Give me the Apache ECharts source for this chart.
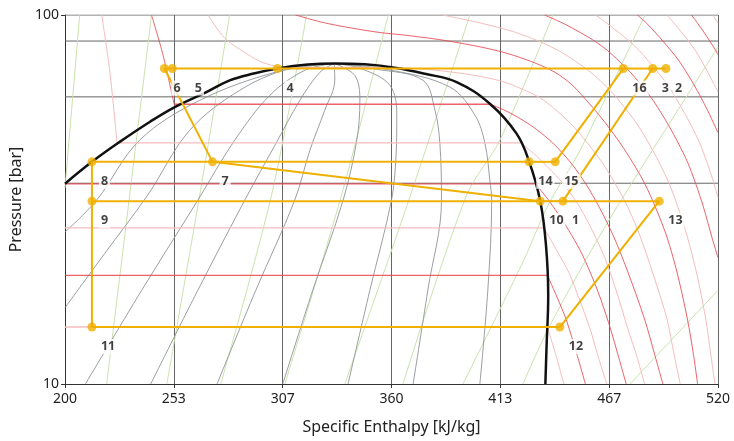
<!DOCTYPE html>
<html><head><meta charset="utf-8">
<script src="https://cdn.jsdelivr.net/npm/echarts@6/dist/echarts.min.js"></script>
<style>html,body{margin:0;padding:0;background:#fff}#c{width:734px;height:441px}</style>
</head><body><div id="c"></div>
<script>
// ---- axis / grid values ----
const hMin = 200, hMax = 520;
const pMin = 10, pMax = 100;
const pressureGrid = [35, 60, 85, 100];

// ---- cycle state points ----
const pointNames = ['1','2','3','4','5','6','7','8','9','10','11','12','13','14','15','16'];
const pointH = [444.0,494.5,488.0,304.1,252.6,248.7,272.3,213.2,213.2,432.9,213.2,442.5,491.2,427.5,440.2,473.6];
const pointP = [31.3,71.6,71.6,71.6,71.6,71.6,40.0,40.0,31.3,31.3,14.27,14.27,31.3,40.0,40.0,71.6];
const cycleSegments = [['6','5'],['5','4'],['4','16'],['16','3'],['3','2'],['6','7'],['7','10'],['8','7'],['7','14'],['14','15'],['15','16'],['8','9'],['9','11'],['9','10'],['10','1'],['1','13'],['1','3'],['11','12'],['12','13']];

// ---- saturation dome [h, p] ----
const dome = [[200,34.9],[213.2,40.0],[226.8,45.3],[241.5,51.3],[253.8,56.3],[269.3,61.8],[280.7,66.5],[292.5,69.4],[304.1,71.6],[319,73.4],[332,73.9],[346.9,73.5],[361.6,72.0],[376.4,69.3],[391.9,65.8],[408.2,57.5],[421.3,47.7],[427.5,40.0],[432.9,31.3],[435.7,23.8],[436.8,17.4],[436.0,12.7],[435.4,10]];

// ---- vapour quality lines ----
const quality1 = [[332,73.9],[303.6,70.1],[266.0,58.7],[236.6,45.8],[215.5,31.5],[200,25.8]];
const quality2 = [[332,73.9],[310.2,71.7],[285.6,62.5],[261.1,48.7],[240.5,32.5],[219.5,22.6],[200,16.1]];
const quality3 = [[332,73.9],[317.5,70.8],[300.4,60.6],[283.2,45.8],[265.1,31.5],[237.6,17.95],[210,10]];
const quality4 = [[332,73.9],[324.9,69.95],[315.1,58.7],[302.9,44.4],[288.1,31.5],[265.1,17.95],[242,10]];
const quality5 = [[332,73.9],[332.2,66.55],[327.3,55.2],[320,43],[312.6,31.5],[293.5,17.95],[274.5,10]];
const quality6 = [[332,73.9],[342,68.6],[344.5,58.7],[343,45.8],[336.3,31.5],[321.4,17.95],[306.7,10]];
const quality7 = [[332,73.9],[345,71.6],[359.2,64.5],[362.6,53.5],[362.1,40.4],[360,31.5],[349.4,17.95],[338.7,10]];
const quality8 = [[332,73.9],[352,71.4],[375.4,66.55],[381.3,55.2],[383.7,44.9],[384.5,31.5],[377.8,17.95],[370.6,10]];
const quality9 = [[332,73.9],[358,71.2],[388.6,63.8],[400.9,53.5],[405.8,44.9],[408.2,35.6],[409.1,31.5],[407.2,17.95],[403.3,10]];

// ---- isentropes ----
const entropy1 = [[200,34],[207.2,100]];
const entropy2 = [[220.4,10],[231.7,32.5],[242.4,100]];
const entropy3 = [[249.9,10],[266.0,32.5],[280.7,100]];
const entropy4 = [[276.3,10],[301.2,32.5],[318.4,100]];
const entropy5 = [[307.7,10],[335.5,32.5],[358.4,100]];
const entropy6 = [[337.1,10],[368.5,31.5],[398.4,100]];
const entropy7 = [[365.6,10],[396.8,32.5],[413.1,45.8],[439.1,100]];
const entropy8 = [[395.0,10],[424.4,21.4],[436.7,30.5],[452.4,43.0],[484.2,100]];
const entropy9 = [[424.4,10],[437.6,14.4],[467.1,28.1],[520,81.8]];
const entropy10 = [[476.9,10],[520,17.95]];

// ---- isotherms (every 10 °C) ----
const isoM30 = [[200,14.27],[436.4,14.27],[440.5,12],[444.5,10]];
const isoM20 = [[200,19.7],[436.4,19.7],[441.5,17],[445.5,15],[450,12.5],[455,10]];
const isoM10 = [[200,26.5],[434.7,26.5],[441,23],[447,20],[452,17],[457.5,14],[461,12],[465.5,10]];
const iso0 = [[200,34.85],[430.6,34.85],[436,32],[441.5,29],[447,26],[452.5,23],[457.5,20],[462.5,17],[467.5,14],[471,12],[475,10]];
const iso10 = [[218,100],[222,70],[225.5,45],[423.4,45],[430,42],[436,39],[442,36],[447.5,33],[452.5,30],[458.5,26],[464.5,22],[470,18],[476,14],[480,12],[484,10]];
const iso20 = [[242.4,100],[248,78],[253.5,57.3],[408.5,57.3],[416,55],[424,52],[431,49],[439,45],[447.5,40],[455,35],[462,30],[469,25],[476,20],[484,15],[489,12],[493,10]];
const iso30 = [[270,100],[278.3,86.5],[288,79.2],[295.5,74.9],[303,72.6],[306,72.1],[360.7,72.1],[380,71],[398,69],[410,67],[418,65],[432,60],[441,55],[449,50],[456,45],[463,40],[469.5,35],[476,30],[482,25],[488,20],[495,15],[498.5,12],[501.5,10]];
const iso40 = [[313,100],[328,95],[352,90],[368,88],[388,85],[412,80],[428,75],[440,70],[448,65],[454,60],[460,55],[466,50],[472,45],[478,40],[484,35],[489.5,30],[495,25],[500,20],[505,15],[508,12],[510,10]];
const iso50 = [[385,100],[404,95],[420,90],[432,85],[442,80],[450,75],[457.5,70],[464,65],[470,60],[475.5,55],[481,50],[486,45],[491,40],[496,35],[500.5,30],[505,25],[509.5,20],[514,15],[516.5,12],[518.5,10]];
const iso60 = [[435,100],[444,95],[452,90],[459.5,85],[466,80],[471.5,75],[477,70],[482,65],[487,60],[491.5,55],[496,50],[500.5,45],[505,40],[509,35],[513,30],[517,25],[520,22]];
const iso70 = [[460,100],[465.5,95],[471,90],[476.5,85],[481.5,80],[486,75],[490.5,70],[495,65],[499,60],[503,55],[507,50],[511,45],[514.5,40],[518,35],[520,32]];
const iso80 = [[480.5,100],[485,95],[489,90],[493,85],[497,80],[501,75],[504.5,70],[508,65],[511.5,60],[515,55],[518.5,50],[520,48]];
const iso90 = [[495,100],[498.5,95],[502,90],[505.5,85],[509,80],[512,75],[515,70],[518,65],[520,62]];
const iso100 = [[507,100],[510,95],[513,90],[516,85],[519,80],[520,78]];
const iso110 = [[517.5,100],[520,95]];

// ---- styles ----
const RED = '#e8484f', PINK = '#f5bcbc', GREEN = '#c9e2ad', GREY = '#8e9398', ORANGE = '#f0b000', GRIDC = '#666666';
const FONT = 'Noto Sans';

function pieces(pts){
  const res = []; let cur = [pts[0]]; let curFlat = null;
  for (let i = 1; i < pts.length; i++){
    const flat = pts[i][1] === pts[i-1][1];
    if (curFlat === null || flat === curFlat){ curFlat = flat; cur.push(pts[i]); }
    else { res.push({pts:cur, flat:curFlat}); cur = [pts[i-1], pts[i]]; curFlat = flat; }
  }
  res.push({pts:cur, flat:curFlat});
  return res;
}
const series = [];
function addCurve(pts, color, width, z, smooth, opacity){
  for (const pc of pieces(pts)){
    series.push({type:'line', data:pc.pts, smooth: pc.flat ? false : smooth, showSymbol:false, symbol:'none',
      silent:true, z:z, clip:true, lineStyle:{color:color, width: pc.flat ? width + 0.3 : width, opacity: opacity}});
  }
}
// horizontal grid lines (incl. top border)
pressureGrid.forEach(p => series.push({type:'line', data:[[hMin,p],[hMax,p]], symbol:'none', silent:true, z:1,
  lineStyle:{color:GRIDC, width:1}}));
[entropy1,entropy2,entropy3,entropy4,entropy5,entropy6,entropy7,entropy8,entropy9,entropy10].forEach(c => addCurve(c, GREEN, 1, 2, 0.3, 1));
[quality1,quality2,quality3,quality4,quality5,quality6,quality7,quality8,quality9].forEach(c => addCurve(c, GREY, 0.9, 3, 0.35, 1));
const isos = [isoM30,isoM20,isoM10,iso0,iso10,iso20,iso30,iso40,iso50,iso60,iso70,iso80,iso90,iso100,iso110];
isos.forEach((c,i) => addCurve(c, (i % 2 === 1) ? RED : PINK, 1, 4, 0.3, (i % 2 === 1) ? 0.85 : 1));
addCurve(dome, '#111', 2.5, 5, 0.4, 1);

const idx = n => pointNames.indexOf(n);
cycleSegments.forEach(([a,b]) => {
  const i = idx(a), j = idx(b);
  series.push({type:'line', data:[[pointH[i],pointP[i]],[pointH[j],pointP[j]]], symbol:'none', silent:true, z:6,
    lineStyle:{color:ORANGE, width:2}});
});
series.push({type:'scatter', z:7, symbolSize:9, silent:true, itemStyle:{color:ORANGE},
  data: pointNames.map((n,i) => ({name:n, value:[pointH[i],pointP[i]],
    label:{position: n === '5' ? [25, 24] : [11.5, 24]}})),
  label:{show:true, formatter:'{b}', align:'left', verticalAlign:'middle', fontFamily:FONT, fontWeight:'bold',
    fontSize:12.5, color:'#111', backgroundColor:'#fff', padding:[1,2]}
});

const chart = echarts.init(document.getElementById('c'));
chart.setOption({
  animation:false,
  backgroundColor:'#fff',
  grid:{left:65, right:16, top:15, bottom:57, containLabel:false},
  xAxis:{type:'value', min:hMin, max:hMax, interval:(hMax-hMin)/6,
    name:'Specific Enthalpy [kJ/kg]', nameLocation:'middle', nameGap:35,
    nameTextStyle:{fontFamily:FONT, fontSize:16, color:'#222'},
    axisLine:{show:true, lineStyle:{color:'#333'}}, axisTick:{show:true, length:4, lineStyle:{color:'#333'}},
    axisLabel:{fontFamily:FONT, fontSize:14, color:'#222', margin:8, formatter:v => String(Math.round(v))},
    splitLine:{show:true, lineStyle:{color:GRIDC, width:1}}},
  yAxis:{type:'log', logBase:10, min:pMin, max:pMax, interval:1,
    name:'Pressure [bar]', nameLocation:'middle', nameGap:36,
    nameTextStyle:{fontFamily:FONT, fontSize:16, color:'#222'},
    axisLine:{show:true, lineStyle:{color:'#333'}}, axisTick:{show:true, length:4, lineStyle:{color:'#333'}},
    axisLabel:{fontFamily:FONT, fontSize:14, color:'#222', margin:6},
    splitLine:{show:false}},
  series: series
});
</script></body></html>
